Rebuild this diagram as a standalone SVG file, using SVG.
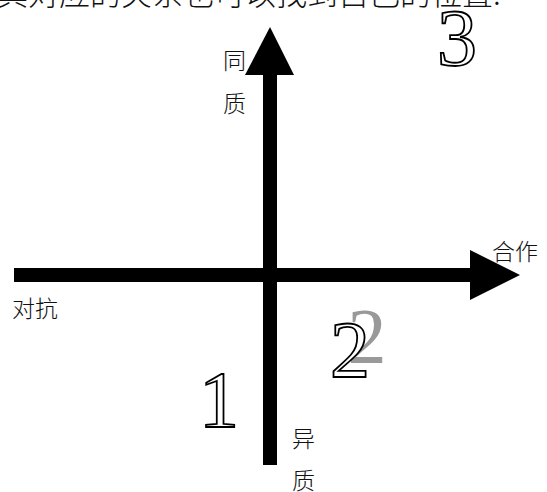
<svg xmlns="http://www.w3.org/2000/svg" width="547" height="492" viewBox="0 0 547 492">
<style>
.lbl{font-family:"Noto Sans CJK SC","Noto Sans",sans-serif;font-size:23px;fill:#111;font-weight:300}
.top{font-family:"Noto Sans CJK SC","Noto Sans",sans-serif;font-size:31px;fill:#111;font-weight:300}
.num{font-family:"Liberation Serif","DejaVu Serif",serif;font-size:80px;fill:#fff;stroke:#000;stroke-width:1.8;text-anchor:middle}
.axis{stroke:#000;stroke-width:14;fill:none}
</style>
<rect width="547" height="492" fill="#fff"/>
<text class="top" x="-3" y="5">其对应的关系也可以找到自己的位置.</text>
<g id="axes">
<line class="axis" x1="14" y1="275" x2="472" y2="275"/>
<polygon points="470,250 520,275 470,300" fill="#000"/>
<line class="axis" x1="270" y1="73" x2="270" y2="465"/>
<polygon points="245,75 270,27 294,75" fill="#000"/>
</g>
<g id="label-tongzhi"><text class="lbl" x="223" y="69">同</text><text class="lbl" x="223" y="112">质</text></g>
<g id="label-yizhi"><text class="lbl" x="292" y="447">异</text><text class="lbl" x="292" y="489">质</text></g>
<g id="label-duikang"><text class="lbl" x="12" y="317">对抗</text></g>
<g id="label-hezuo"><text class="lbl" x="492" y="260">合作</text></g>
<g id="num3"><text class="num" x="457" y="65">3</text></g>
<g id="num2b"><text x="367" y="362" font-family="Liberation Serif,serif" font-size="78" fill="#999" text-anchor="middle">2</text></g>
<g id="num2"><text class="num" x="350" y="377">2</text></g>
<g id="num1"><text class="num" x="219" y="427">1</text></g>
</svg>
